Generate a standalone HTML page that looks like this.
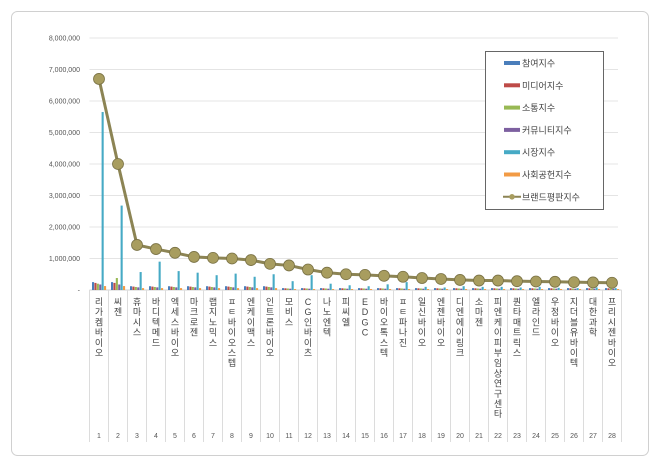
<!DOCTYPE html>
<html><head><meta charset="utf-8"><style>
body{margin:0;background:#fff;}
svg text{font-family:"Liberation Sans","Noto Sans CJK KR",sans-serif;}
</style></head><body>
<svg id="c" width="660" height="467" xmlns="http://www.w3.org/2000/svg"></svg>
<script>
const s=document.getElementById('c');let h='';
h+='<rect x="11.5" y="11.5" width="637" height="444" rx="6" fill="#fff" stroke="#d0d0d0"/>';
const y0=290,pm=31.5,x0=89.5,cw=19;
const Y=v=>y0-v*pm/1e6;
for(let i=0;i<=8;i++){let y=Y(i*1e6);
 if(i>0)h+=`<line x1="${x0}" x2="618" y1="${y}" y2="${y}" stroke="#e4e4e4"/>`;
 h+=`<text x="80" y="${y+2.5}" font-size="7" fill="#555" text-anchor="end">${i?(i+',000,000'):'-'}</text>`;}
h+=`<line x1="${x0}" x2="${x0+28*cw}" y1="290" y2="290" stroke="#d0d0d0"/>`;
const names=["리가켐바이오","씨젠","휴마시스","바디텍메드","엑세스바이오","마크로젠","랩지노믹스","ㅍㅌ바이오스텝","엔케이맥스","인트론바이오","모비스","CG인바이츠","나노엔텍","피씨엘","EDGC","바이오톡스텍","ㅍㅌ파나진","일신바이오","엔젠바이오","디엔에이링크","소마젠","피엔케이피부임상연구센타","퀀타매트릭스","엘라인드","우정바이오","지더블유바이텍","대한과학","프리시젠바이오"];
const line=[6.7,4.0,1.43,1.3,1.18,1.05,1.02,1.0,0.95,0.83,0.78,0.65,0.55,0.5,0.48,0.45,0.42,0.38,0.35,0.32,0.3,0.3,0.28,0.27,0.26,0.25,0.24,0.23];
const mk=[5.65,2.68,0.57,0.9,0.6,0.55,0.47,0.52,0.42,0.5,0.28,0.47,0.2,0.15,0.12,0.18,0.25,0.1,0.08,0.12,0.1,0.1,0.08,0.1,0.07,0.06,0.08,0.06];
const cols=["#4a7ebb","#be4b48","#98b954","#7d60a0","#46aac5","#f29b45"];
for(let i=0;i<28;i++){const cx=x0+cw*i+cw/2;
 const base=i<2?0.25:(i<10?0.12:0.06);
 const vals=[base,base*0.9,i==1?0.38:base*0.8,base*0.7,mk[i],base*0.5];
 for(let k=0;k<6;k++){const v=vals[k]*1e6;const bx=cx-7+k*2.4;
  h+=`<rect x="${bx}" y="${Y(v)}" width="2.1" height="${y0-Y(v)}" fill="${cols[k]}"/>`;}
 h+=`<line x1="${x0+cw*(i+1)}" x2="${x0+cw*(i+1)}" y1="290" y2="442" stroke="#dcdcdc"/>`;
 h+=`<text x="${cx}" y="438" font-size="7" fill="#555" text-anchor="middle">${i+1}</text>`;
 let t='';[...names[i]].forEach((ch,j)=>{t+=`<tspan x="${cx}" y="${305+j*10.2}">${ch}</tspan>`});
 h+=`<text font-size="9" fill="#444" text-anchor="middle">${t}</text>`;}
h+=`<line x1="${x0}" x2="${x0}" y1="290" y2="442" stroke="#dcdcdc"/>`;
let p=line.map((v,i)=>`${x0+cw*i+cw/2},${Y(v*1e6)}`).join(' ');
h+=`<polyline points="${p}" fill="none" stroke="#8c8454" stroke-width="3"/>`;
line.forEach((v,i)=>{h+=`<circle cx="${x0+cw*i+cw/2}" cy="${Y(v*1e6)}" r="5.5" fill="#a89d5f" stroke="#7a7245" stroke-width="0.8"/>`});
h+='<rect x="485.5" y="51.5" width="118" height="158" fill="#fff" stroke="#666"/>';
const L=["참여지수","미디어지수","소통지수","커뮤니티지수","시장지수","사회공헌지수","브랜드평판지수"];
L.forEach((t,i)=>{const y=63+i*22.3;
 if(i<6)h+=`<rect x="504" y="${y-2}" width="16" height="4" fill="${cols[i]}"/>`;
 else{h+=`<line x1="503" x2="521" y1="${y}" y2="${y}" stroke="#8c8454" stroke-width="2"/><circle cx="512" cy="${y}" r="2.8" fill="#a89d5f"/>`;}
 h+=`<text x="522" y="${y+3.5}" font-size="9" fill="#444">${t}</text>`;});
s.innerHTML=h;
</script>
</body></html>
